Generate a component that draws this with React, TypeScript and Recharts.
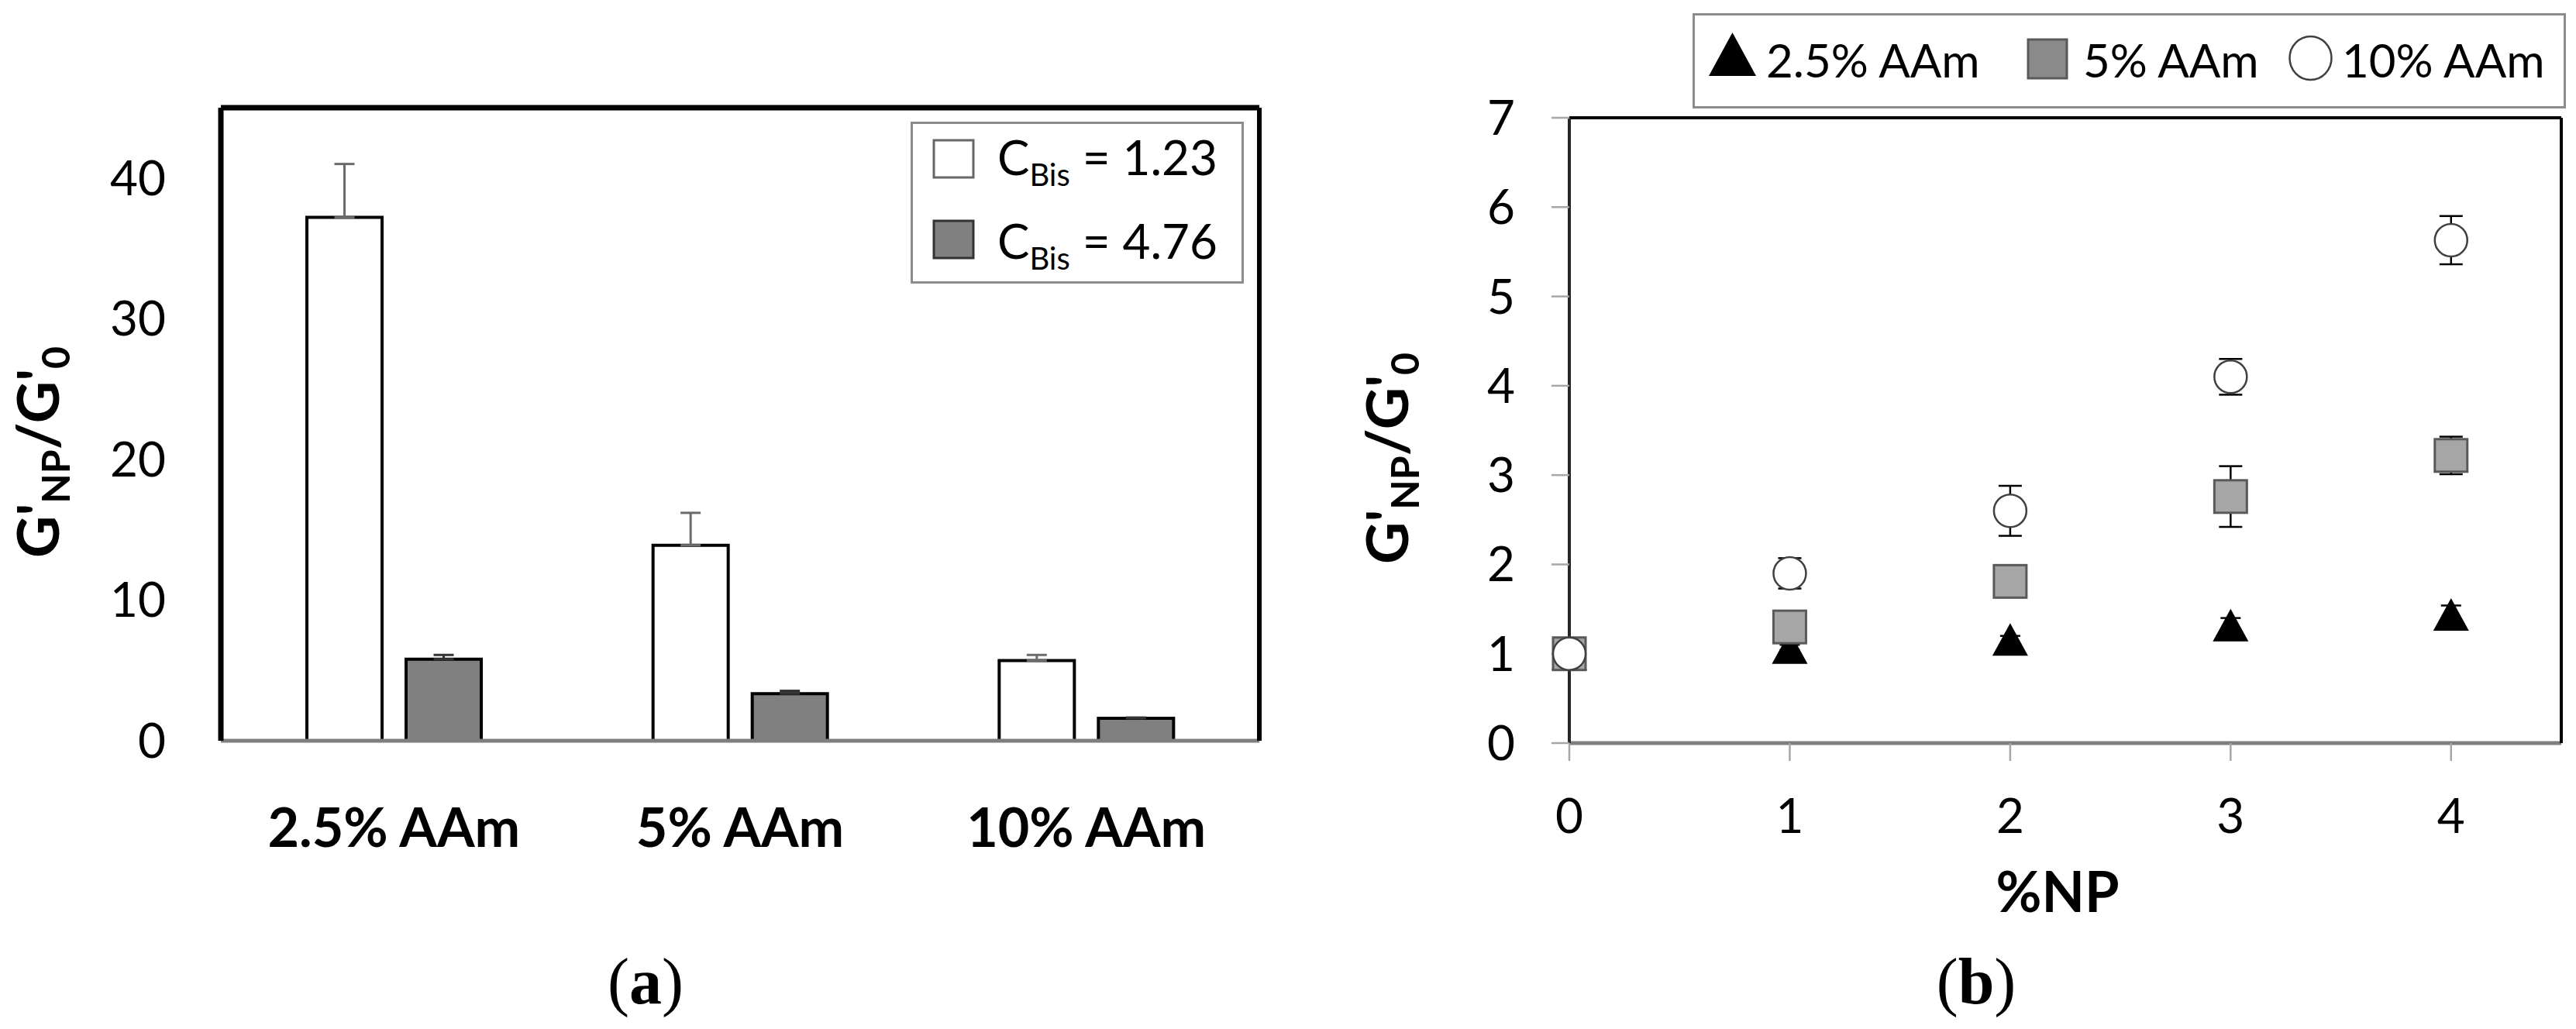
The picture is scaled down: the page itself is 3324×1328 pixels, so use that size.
import React from "react";
import {
  BarChart,
  Bar,
  XAxis,
  YAxis,
  ErrorBar,
  Legend,
  ScatterChart,
  Scatter,
} from "recharts";

const FONT = "Lato, 'Liberation Sans', sans-serif";
const SERIF = "'Liberation Serif', 'DejaVu Serif', serif";

// (a) G'NP/G'0 per gel, two crosslinker levels
const gelTypes = ["2.5% AAm", "5% AAm", "10% AAm"];
const bisLevels = ["1.23", "4.76"];
const ratioBisLow = [37.2, 13.9, 5.7];
const errBisLow = [3.8, 2.3, 0.4];
const ratioBisHigh = [5.8, 3.35, 1.6];
const errBisHigh = [0.3, 0.2, 0.05];
const yTicksA = [0, 10, 20, 30, 40];

// (b) G'NP/G'0 vs %NP
const npPercent = [0, 1, 2, 3, 4];
const seriesNames = ["2.5% AAm", "5% AAm", "10% AAm"];
const ratioAAm25 = [1.0, 1.07, 1.16, 1.32, 1.44];
const errAAm25 = [0, 0.03, 0.04, 0.08, 0.1];
const ratioAAm5 = [1.0, 1.3, 1.81, 2.76, 3.22];
const errAAm5 = [0, 0.1, 0.1, 0.34, 0.21];
const ratioAAm10 = [1.0, 1.9, 2.6, 4.1, 5.63];
const errAAm10 = [0, 0.17, 0.28, 0.2, 0.27];
const yTicksB = [0, 1, 2, 3, 4, 5, 6, 7];

const barFills = ["#ffffff", "#808080"];

const barData = gelTypes.map((gel, i) => ({
  gel,
  low: ratioBisLow[i],
  lowErr: [0, errBisLow[i]],
  high: ratioBisHigh[i],
  highErr: [0, errBisHigh[i]],
}));

const toPoints = (vals: number[], errs: number[]) =>
  npPercent.map((x, i) => ({ x, y: vals[i], err: errs[i] }));

const pts25 = toPoints(ratioAAm25, errAAm25);
const pts5 = toPoints(ratioAAm5, errAAm5);
const pts10 = toPoints(ratioAAm10, errAAm10);

// rotated y title with subscripts
function RatioTitle({ viewBox, dx }: any) {
  const vb = viewBox || { x: 0, y: 0, width: 0, height: 0 };
  const x = vb.x + dx;
  const y = vb.y + vb.height / 2 + 36;
  return (
    <text
      x={x}
      y={y}
      transform={`rotate(-90 ${x} ${y})`}
      textAnchor="middle"
      fontFamily={FONT}
      fontWeight={700}
      fontSize={75}
      fill="#000"
    >
      G'
      <tspan dy={14} fontSize={50}>NP</tspan>
      <tspan dy={-14}>/G'</tspan>
      <tspan dy={14} fontSize={50}>0</tspan>
    </text>
  );
}

function NpTitle({ viewBox }: any) {
  const vb = viewBox || { x: 0, y: 0, width: 0, height: 0 };
  return (
    <text
      x={vb.x + vb.width / 2 - 10}
      y={vb.y + 218}
      textAnchor="middle"
      fontFamily={FONT}
      fontWeight={700}
      fontSize={72}
      fill="#000"
    >
      %NP
    </text>
  );
}

function BisLegend() {
  return (
    <svg width={430} height={209} style={{ display: "block" }}>
      <rect x={1.5} y={1.5} width={427} height={206} fill="#fff" stroke="#8c8c8c" strokeWidth={3} />
      {bisLevels.map((lvl, i) => (
        <g key={lvl}>
          <rect
            x={30}
            y={24 + i * 104}
            width={51}
            height={48}
            fill={barFills[i]}
            stroke={i ? "#333" : "#666"}
            strokeWidth={3}
          />
          <text x={112} y={69 + i * 108} fontFamily={FONT} fontSize={62} fill="#000">
            C<tspan dy={14} fontSize={40}>Bis</tspan>
            <tspan dy={-14}> = {lvl}</tspan>
          </text>
        </g>
      ))}
    </svg>
  );
}

function TriangleMark({ cx, cy, w = 46, h = 42 }: any) {
  return (
    <polygon
      points={`${cx},${cy - h / 2} ${cx + w / 2},${cy + h / 2} ${cx - w / 2},${cy + h / 2}`}
      fill="#000"
    />
  );
}

function SquareMark({ cx, cy, s = 42, fill = "#a6a6a6" }: any) {
  return (
    <rect x={cx - s / 2} y={cy - s / 2} width={s} height={s} fill={fill} stroke="#595959" strokeWidth={3} />
  );
}

function CircleMark({ cx, cy, rx = 21, ry = 21 }: any) {
  return <ellipse cx={cx} cy={cy} rx={rx} ry={ry} fill="#fff" stroke="#404040" strokeWidth={2.5} />;
}

function AAmLegend() {
  const textX = [95, 504, 838];
  return (
    <svg width={1127} height={123} style={{ display: "block" }}>
      <rect x={1.5} y={1.5} width={1124} height={120} fill="#fff" stroke="#8c8c8c" strokeWidth={3} />
      <TriangleMark cx={51.5} cy={53} w={61} h={56} />
      <SquareMark cx={458} cy={59} s={50} fill="#8a8a8a" />
      <CircleMark cx={797.5} cy={58} rx={27} ry={28} />
      {seriesNames.map((name, i) => (
        <text key={name} x={textX[i]} y={83} fontFamily={FONT} fontSize={60} fill="#000">
          {name}
        </text>
      ))}
    </svg>
  );
}

const tickStyle = { fill: "#000", fontSize: 62, fontFamily: FONT };

function ChartA() {
  return (
    <BarChart
      width={1700}
      height={1328}
      data={barData}
      margin={{ top: 138, right: 74, bottom: 172, left: 0 }}
      barSize={97}
      barGap={31}
    >
      <XAxis
        dataKey="gel"
        height={200}
        axisLine={{ stroke: "#7f7f7f", strokeWidth: 5 }}
        tickLine={false}
        tickSize={0}
        tickMargin={87}
        tick={{ fill: "#000", fontSize: 70, fontWeight: 700, fontFamily: FONT }}
      />
      <XAxis xAxisId="top" dataKey="gel" orientation="top" height={1} tick={false} tickLine={false} axisLine={{ stroke: "#000", strokeWidth: 7 }} />
      <YAxis
        width={285}
        domain={[0, 45]}
        ticks={yTicksA}
        interval={0}
        axisLine={{ stroke: "#000", strokeWidth: 7 }}
        tickLine={false}
        tickSize={0}
        tickMargin={71}
        tick={tickStyle}
        label={(p: any) => <RatioTitle {...p} dx={76} />}
      />
      <YAxis yAxisId="right" orientation="right" width={1} domain={[0, 45]} tick={false} tickLine={false} axisLine={{ stroke: "#000", strokeWidth: 6 }} />
      <Legend
        layout="vertical"
        align="center"
        verticalAlign="middle"
        wrapperStyle={{ left: 1175, top: 157, width: 430, height: 209 }}
        content={() => <BisLegend />}
      />
      <Bar dataKey="low" name="CBis = 1.23" fill={barFills[0]} stroke="#000" strokeWidth={4} isAnimationActive={false}>
        <ErrorBar dataKey="lowErr" direction="y" width={13} stroke="#6b6b6b" strokeWidth={3} />
      </Bar>
      <Bar dataKey="high" name="CBis = 4.76" fill={barFills[1]} stroke="#000" strokeWidth={4} isAnimationActive={false}>
        <ErrorBar dataKey="highErr" direction="y" width={13} stroke="#333" strokeWidth={3} />
      </Bar>
    </BarChart>
  );
}

function ChartB() {
  return (
    <ScatterChart width={1644} height={1328} margin={{ top: 151, right: 18, bottom: 169, left: 0 }}>
      <XAxis
        type="number"
        dataKey="x"
        domain={[0, 4.5]}
        ticks={npPercent}
        interval={0}
        height={200}
        axisLine={{ stroke: "#7f7f7f", strokeWidth: 5 }}
        tickLine={{ stroke: "#a6a6a6", strokeWidth: 2.5 }}
        tickSize={23}
        tickMargin={49}
        tick={tickStyle}
        label={(p: any) => <NpTitle {...p} />}
      />
      <XAxis xAxisId="top" type="number" orientation="top" domain={[0, 4.5]} height={1} tick={false} tickLine={false} axisLine={{ stroke: "#000", strokeWidth: 4 }} />
      <YAxis
        type="number"
        dataKey="y"
        width={345}
        domain={[0, 7]}
        ticks={yTicksB}
        interval={0}
        axisLine={{ stroke: "#262626", strokeWidth: 4 }}
        tickLine={{ stroke: "#a6a6a6", strokeWidth: 2.5 }}
        tickSize={23}
        tickMargin={47}
        tick={tickStyle}
        label={(p: any) => <RatioTitle {...p} dx={137} />}
      />
      <YAxis yAxisId="right" type="number" orientation="right" width={1} domain={[0, 7]} tick={false} tickLine={false} axisLine={{ stroke: "#000", strokeWidth: 4 }} />
      <Legend
        layout="vertical"
        align="center"
        verticalAlign="middle"
        wrapperStyle={{ left: 504, top: 17, width: 1127, height: 123 }}
        content={() => <AAmLegend />}
      />
      <Scatter name={seriesNames[0]} data={pts25} shape={(p: any) => <TriangleMark {...p} />} isAnimationActive={false}>
        <ErrorBar dataKey="err" direction="y" width={13} stroke="#000" strokeWidth={2.5} />
      </Scatter>
      <Scatter name={seriesNames[1]} data={pts5} shape={(p: any) => <SquareMark {...p} />} isAnimationActive={false}>
        <ErrorBar dataKey="err" direction="y" width={15} stroke="#000" strokeWidth={2.5} />
      </Scatter>
      <Scatter name={seriesNames[2]} data={pts10} shape={(p: any) => <CircleMark {...p} />} isAnimationActive={false}>
        <ErrorBar dataKey="err" direction="y" width={15} stroke="#000" strokeWidth={2.5} />
      </Scatter>
    </ScatterChart>
  );
}

export default function App() {
  return (
    <div style={{ position: "fixed", left: 0, top: 0, width: 3324, height: 1328, background: "#fff", overflow: "hidden" }}>
      <div style={{ position: "absolute", left: 0, top: 0 }}>
        <ChartA />
      </div>
      <div style={{ position: "absolute", left: 1680, top: 0 }}>
        <ChartB />
      </div>
      <svg width={3324} height={1328} style={{ position: "absolute", left: 0, top: 0, pointerEvents: "none" }}>
        <text x={833} y={1295} textAnchor="middle" fontFamily={SERIF} fontSize={84} fill="#000">
          (<tspan fontWeight={700}>a</tspan>)
        </text>
        <text x={2550} y={1295} textAnchor="middle" fontFamily={SERIF} fontSize={84} fill="#000">
          (<tspan fontWeight={700}>b</tspan>)
        </text>
      </svg>
    </div>
  );
}
